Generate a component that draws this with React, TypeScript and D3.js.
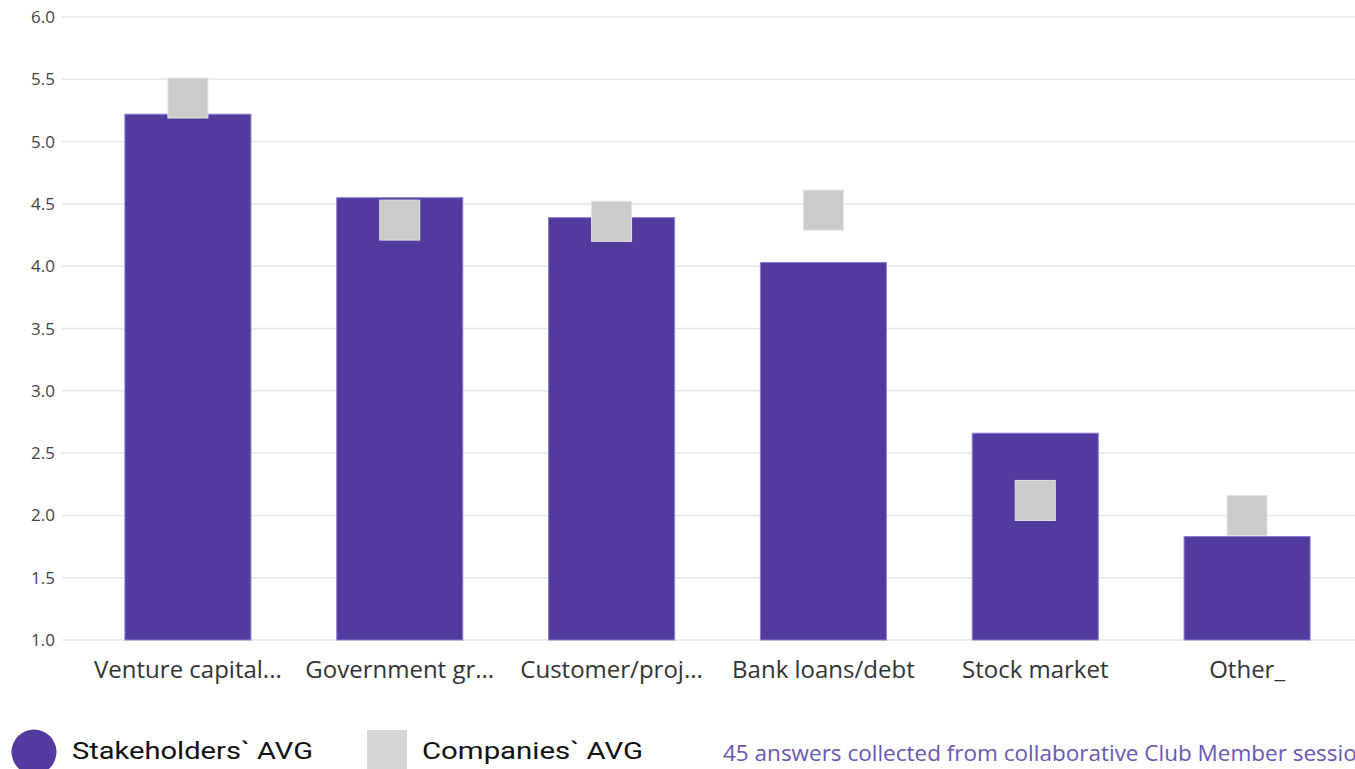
import React from "react";
import * as d3 from "d3";

const categories = [
  "Venture capital...",
  "Government gr...",
  "Customer/proj...",
  "Bank loans/debt",
  "Stock market",
  "Other_",
];
const stakeholdersAvg = [5.22, 4.55, 4.39, 4.03, 2.66, 1.83];
const companiesAvg = [5.35, 4.37, 4.36, 4.45, 2.12, 2.0];
const yTicks = [1.0, 1.5, 2.0, 2.5, 3.0, 3.5, 4.0, 4.5, 5.0, 5.5, 6.0];
const seriesNames = ["Stakeholders` AVG", "Companies` AVG"];
const footnote = "45 answers collected from collaborative Club Member sessions";

const W = 1355;
const H = 769;
const PURPLE = "#533a9f";
const GRAY = "#cbcbcb";

export default function App() {
  const y = d3.scaleLinear().domain([1, 6]).range([640, 17]);
  const x = d3
    .scaleBand<string>()
    .domain(categories)
    .range([82, 1353])
    .paddingInner(0.405)
    .paddingOuter(0.2025);
  const bw = x.bandwidth();
  const sq = 40;
  const uiFont = "'Open Sans', 'Noto Sans', sans-serif";

  return (
    <svg
      width={W}
      height={H}
      style={{ position: "fixed", left: 0, top: 0, background: "#fff" }}
    >
      <g>
        {yTicks.map((t) => (
          <g key={t}>
            <line
              x1={62}
              x2={W}
              y1={y(t)}
              y2={y(t)}
              stroke="#e6e6e6"
              strokeWidth={1.5}
            />
            <text
              x={55}
              y={y(t) + 6}
              textAnchor="end"
              fontSize={17}
              fill="#444"
              fontFamily={uiFont}
            >
              {t.toFixed(1)}
            </text>
          </g>
        ))}
      </g>
      <g>
        {categories.map((c, i) => (
          <rect
            key={c}
            x={x(c)!}
            y={y(stakeholdersAvg[i])}
            width={bw}
            height={y(1) - y(stakeholdersAvg[i])}
            fill={PURPLE}
            stroke="#8c7fd0"
            strokeWidth={1}
          />
        ))}
      </g>
      <g>
        {categories.map((c, i) => (
          <rect
            key={c}
            x={x(c)! + bw / 2 - sq / 2}
            y={y(companiesAvg[i]) - sq / 2}
            width={sq}
            height={sq}
            fill={GRAY}
            stroke="#e2e2e2"
            strokeWidth={1}
          />
        ))}
      </g>
      <g>
        {categories.map((c) => (
          <text
            key={c}
            x={x(c)! + bw / 2}
            y={678}
            textAnchor="middle"
            fontSize={24}
            fill="#333"
            fontFamily={uiFont}
          >
            {c}
          </text>
        ))}
      </g>
      <g>
        <circle cx={34} cy={752} r={22.5} fill={PURPLE} />
        <text
          x={72}
          y={759}
          fontSize={24}
          fill="#111"
          fontFamily="Roboto, sans-serif"
          textLength={241}
          lengthAdjust="spacingAndGlyphs"
        >
          {seriesNames[0]}
        </text>
        <rect x={367} y={730} width={40} height={40} fill="#d6d6d6" />
        <text
          x={422}
          y={759}
          fontSize={24}
          fill="#111"
          fontFamily="Roboto, sans-serif"
          textLength={221}
          lengthAdjust="spacingAndGlyphs"
        >
          {seriesNames[1]}
        </text>
        <text
          x={723}
          y={761}
          fontSize={22.5}
          fill="#6a56b6"
          fontFamily={uiFont}
        >
          {footnote}
        </text>
      </g>
    </svg>
  );
}
